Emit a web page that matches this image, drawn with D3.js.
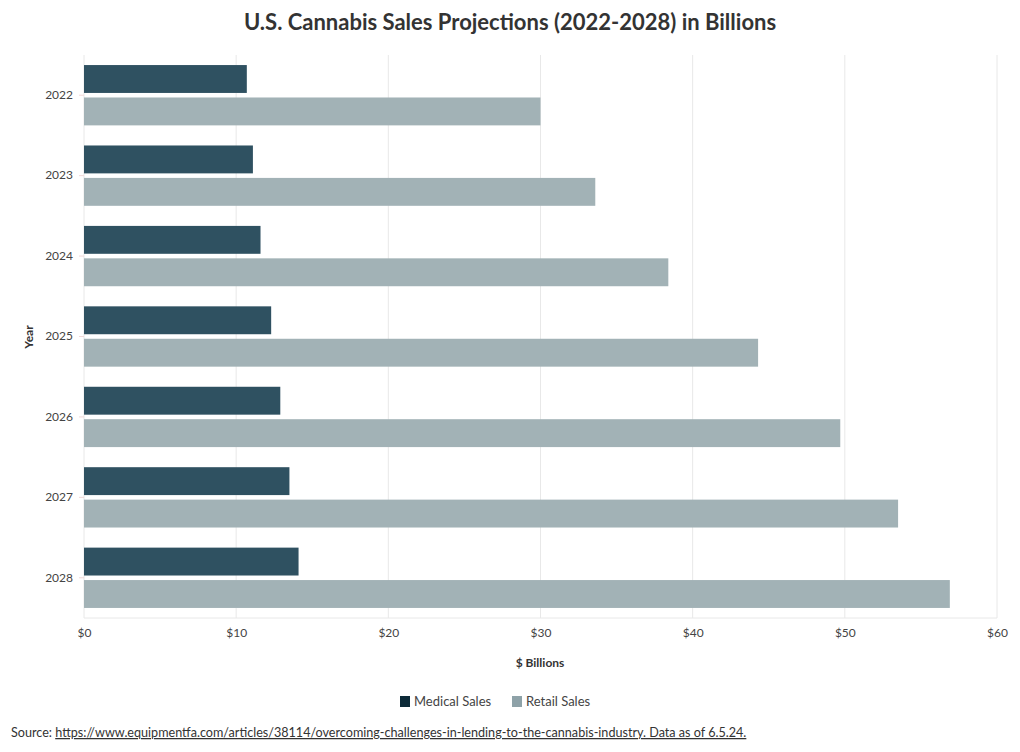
<!DOCTYPE html>
<html><head><meta charset="utf-8">
<script src="https://cdn.jsdelivr.net/npm/d3@7"></script>
<style>
body{margin:0;background:#fff;}
text{font-family:"Source Sans Pro","Lato","Noto Sans",sans-serif;}
</style></head><body>
<svg id="chart" width="1020" height="752"></svg>
<script>
const years = ["2022","2023","2024","2025","2026","2027","2028"];
const medicalSales = [10.7, 11.1, 11.6, 12.3, 12.9, 13.5, 14.1];
const retailSales = [30.0, 33.6, 38.4, 44.3, 49.7, 53.5, 56.9];
const seriesNames = ["Medical Sales", "Retail Sales"];
const xTicks = [0,10,20,30,40,50,60];
const title = "U.S. Cannabis Sales Projections (2022-2028) in Billions";
const sourceText = "https://www.equipmentfa.com/articles/38114/overcoming-challenges-in-lending-to-the-cannabis-industry. Data as of 6.5.24.";

const barColors = ["#2f5161", "#a2b2b6"];
const legendColors = ["#0d2a38", "#8ea2a8"];

const svg = d3.select("#chart");
const m = {left:84, right:1020-997, top:55, bottom:752-618};
const W = 1020, H = 752;

const x = d3.scaleLinear().domain([0,60]).range([m.left, W - m.right]);
const y = d3.scaleBand().domain(years).range([m.top, H - m.bottom]).paddingInner(0.25).paddingOuter(0.125);
const sub = d3.scaleBand().domain(seriesNames).range([0, y.bandwidth()]).paddingInner(0.14);

// gridlines
svg.append("g").selectAll("line").data(xTicks).join("line")
  .attr("x1", d=>x(d)).attr("x2", d=>x(d))
  .attr("y1", m.top).attr("y2", H - m.bottom)
  .attr("stroke", "#e8e8e8").attr("stroke-width", 1);
// bottom axis line
svg.append("line").attr("x1", m.left).attr("x2", W-m.right).attr("y1", H-m.bottom).attr("y2", H-m.bottom)
  .attr("stroke", "#e8e8e8");

const data = years.map((yr,i)=>({year:yr, vals:[medicalSales[i], retailSales[i]]}));
const g = svg.append("g");
data.forEach(d=>{
  d.vals.forEach((v,j)=>{
    g.append("rect")
      .attr("x", x(0))
      .attr("y", y(d.year) + sub(seriesNames[j]))
      .attr("width", x(v) - x(0))
      .attr("height", sub.bandwidth())
      .attr("fill", barColors[j]);
  });
});

// x axis
const xAxis = d3.axisBottom(x).tickValues(xTicks).tickFormat(d=>"$"+d).tickSize(0).tickPadding(10);
const xg = svg.append("g").attr("transform", `translate(0,${H-m.bottom})`).call(xAxis);
xg.select(".domain").remove();
xg.selectAll("text").attr("fill", "#444").style("font-size","12px");

// y axis
const yAxis = d3.axisLeft(y).tickSize(5).tickPadding(6);
const yg = svg.append("g").attr("transform", `translate(${m.left},0)`).call(yAxis);
yg.select(".domain").remove();
yg.selectAll("line").attr("stroke","#f2d9d9");
yg.selectAll("text").attr("fill", "#444").style("font-size","12px");

// titles
svg.append("text").attr("x", 510).attr("y", 30).attr("text-anchor","middle")
  .style("font-size","22px").style("font-weight","700").attr("fill","#333").text(title);
svg.append("text").attr("x", 540).attr("y", 667).attr("text-anchor","middle")
  .style("font-size","12px").style("font-weight","700").attr("fill","#333").text("$ Billions");
svg.append("text").attr("transform","translate(33,337) rotate(-90)").attr("text-anchor","middle")
  .style("font-size","12px").style("font-weight","700").attr("fill","#333").text("Year");

// legend
const legX = [400, 512];
seriesNames.forEach((s,i)=>{
  svg.append("rect").attr("x", legX[i]).attr("y", 696).attr("width", 10).attr("height", 11).attr("fill", legendColors[i]);
  svg.append("text").attr("x", legX[i]+14).attr("y", 706).style("font-size","13px").attr("fill","#444").text(s);
});

// source
const src = svg.append("text").attr("x", 11).attr("y", 737).style("font-size","12.6px").attr("fill","#333");
src.append("tspan").text("Source: ");
src.append("tspan").attr("text-decoration","underline").text(sourceText);
</script>
</body></html>
